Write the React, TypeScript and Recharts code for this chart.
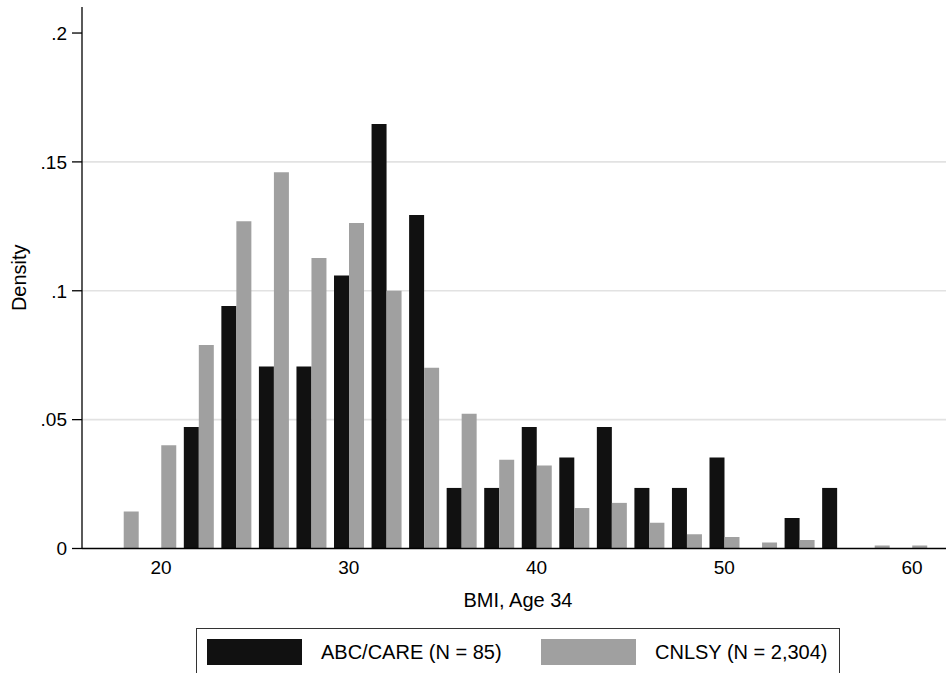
import { BarChart, Bar, XAxis, YAxis, CartesianGrid } from "recharts";

// histogram bins (bin centres, BMI units)
const bmiBins = [18, 20, 22, 24, 26, 28, 30, 32, 34, 36, 38, 40, 42, 44, 46, 48, 50, 52, 54, 56, 58, 60];

const abcCare = [
  0, 0, 0.0471, 0.0941, 0.0706, 0.0706, 0.1059, 0.1647, 0.1294, 0.0235, 0.0235,
  0.0471, 0.0353, 0.0471, 0.0235, 0.0235, 0.0353, 0, 0.0118, 0.0235, 0, 0,
];

const cnlsy = [
  0.0144, 0.0401, 0.079, 0.127, 0.146, 0.1127, 0.1263, 0.1, 0.0701, 0.0523, 0.0344,
  0.0322, 0.0157, 0.0177, 0.01, 0.0055, 0.0045, 0.0023, 0.0033, 0, 0.0012, 0.0012,
];

const xTicks = [20, 30, 40, 50, 60];
const yTicks = [0, 0.05, 0.1, 0.15, 0.2];
const gridValues = [0.05, 0.1, 0.15];

const series = [
  { key: "abc", label: "ABC/CARE (N = 85)", color: "#111111" },
  { key: "cnlsy", label: "CNLSY (N = 2,304)", color: "#a0a0a0" },
];

const data = bmiBins.map((bmi, i) => ({ bmi, abc: abcCare[i], cnlsy: cnlsy[i] }));

const FONT = "'Liberation Sans', Arial, Helvetica, sans-serif";

function fmtY(v: number) {
  return v === 0 ? "0" : String(v).replace(/^0/, "");
}

export default function App() {
  return (
    <div
      style={{
        position: "absolute", left: 0, top: 0, width: 946, height: 673,
        overflow: "hidden", background: "#fff", fontFamily: FONT,
      }}
    >
      <BarChart
        width={946}
        height={673}
        data={data}
        margin={{ top: 7, right: 0, bottom: 0, left: 0 }}
        barGap={0}
        style={{ fontFamily: FONT }}
      >
        <CartesianGrid
          vertical={false}
          horizontalValues={gridValues}
          stroke="#e2e2e2"
          strokeWidth={1.6}
        />
        <XAxis
          type="number"
          dataKey="bmi"
          domain={[15.79, 61.81]}
          ticks={xTicks}
          interval={0}
          allowDataOverflow
          height={124.5}
          tickLine={false}
          tickSize={0}
          tickMargin={12}
          axisLine={{ stroke: "#000", strokeWidth: 1.3 }}
          tick={{ fontSize: 19, fill: "#000" }}
          label={{
            content: (props: any) => {
              const vb = props.viewBox;
              return (
                <text x={vb.x + vb.width / 2 + 4} y={vb.y + 58.5} textAnchor="middle" fontSize={20} fill="#000">
                  BMI, Age 34
                </text>
              );
            },
          }}
        />
        <YAxis
          type="number"
          domain={[0, 0.2101]}
          ticks={yTicks}
          interval={0}
          allowDataOverflow
          width={82}
          tickSize={10}
          tickMargin={5}
          tickFormatter={fmtY}
          tickLine={{ stroke: "#000", strokeWidth: 1.3 }}
          axisLine={{ stroke: "#000", strokeWidth: 1.3 }}
          tick={{ fontSize: 19, fill: "#000" }}
          label={{
            content: (props: any) => {
              const vb = props.viewBox;
              const cy = vb.y + vb.height / 2;
              return (
                <text x={0} y={0} transform={`translate(26, ${cy}) rotate(-90)`} textAnchor="middle" fontSize={20} fill="#000">
                  Density
                </text>
              );
            },
          }}
        />
        {series.map(s => (
          <Bar key={s.key} dataKey={s.key} fill={s.color} barSize={15} isAnimationActive={false} />
        ))}
      </BarChart>

      {/* legend box, bottom edge runs off the page */}
      <div
        style={{
          position: "absolute", left: 196, top: 628, width: 644, height: 60,
          boxSizing: "border-box", border: "1.3px solid #333", borderBottom: "none",
          display: "flex", alignItems: "flex-start", paddingLeft: 10, paddingTop: 10,
        }}
      >
        {series.map(s => (
          <div key={s.key} style={{ width: 334, display: "flex", alignItems: "center", flexShrink: 0 }}>
            <div style={{ width: 95, height: 26, background: s.color }} />
            <span style={{ marginLeft: 19, fontSize: 20, color: "#000", lineHeight: "26px" }}>{s.label}</span>
          </div>
        ))}
      </div>
    </div>
  );
}
